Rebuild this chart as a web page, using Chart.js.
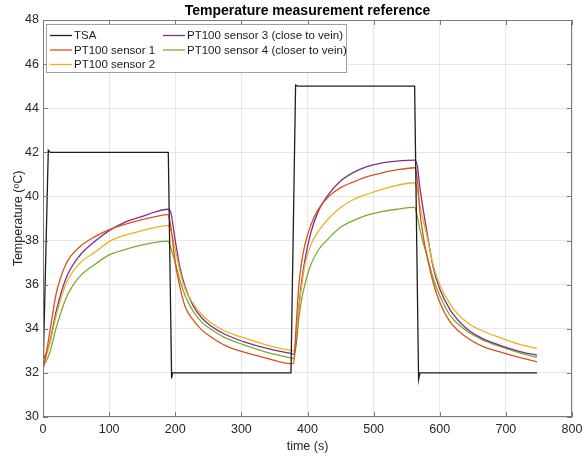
<!DOCTYPE html>
<html>
<head>
<meta charset="utf-8">
<script src="https://cdn.jsdelivr.net/npm/chart.js@4.4.1/dist/chart.umd.min.js"></script>
<style>
body{margin:0;background:#fff}
canvas{display:block}
</style>
</head>
<body>
<canvas id="tempRef" width="585" height="461"></canvas>
<script>
/* ---- data ---- */

const tsaTime = [0, 1, 8, 11, 189.5, 194.5, 196, 375, 382, 385, 562, 568, 570, 747]
const tsaTemp = [32, 32, 42.1, 42, 42, 31.75, 32, 32, 45.05, 45, 45, 31.7, 32, 32]

const sensorTime = [0,5,10,20,35,55,80,100,125,150,170,189,
193,200,207,215,227,240,253,275,303,340,375,
379,383,387,391,396,405,416,432,450,469,490,510,535,562,
566,570,575,580,590,600,616,641,665,691,720,747]

const sensor1 = [32.1,32.9,33.8,35.6,36.95,37.7,38.2,38.5,38.75,38.95,39.08,39.18,
38.7,37.0,35.9,35.0,34.4,33.95,33.65,33.25,32.95,32.65,32.42,
32.45,34.2,36.0,37.0,37.8,38.7,39.4,40.0,40.4,40.65,40.9,41.05,41.2,41.3,
40.8,39.3,38.2,37.4,36.1,35.2,34.3,33.6,33.2,32.95,32.7,32.5]

const sensor2 = [32.4,32.8,33.3,34.6,36.05,36.95,37.5,37.95,38.25,38.45,38.6,38.68,
38.5,37.6,36.6,35.8,35.15,34.65,34.3,33.9,33.6,33.25,33.02,
33.0,33.7,35.0,35.9,36.9,37.8,38.4,39.0,39.5,39.85,40.1,40.3,40.5,40.62,
40.3,39.6,38.9,38.3,36.9,36.0,35.1,34.3,33.9,33.6,33.3,33.1]

const sensor3 = [32.6,32.9,33.35,34.8,36.3,37.3,38.0,38.45,38.85,39.1,39.3,39.42,
39.3,38.0,36.8,35.9,35.05,34.5,34.15,33.75,33.42,33.1,32.88,
32.85,33.5,35.0,36.1,37.1,38.35,39.3,40.1,40.7,41.08,41.35,41.5,41.6,41.65,
41.4,40.4,39.4,38.5,36.8,35.8,34.85,34.0,33.55,33.25,32.98,32.8]

const sensor4 = [32.3,32.55,32.9,34.05,35.4,36.35,36.95,37.35,37.6,37.8,37.92,37.97,
37.7,37.0,36.2,35.5,34.8,34.3,34.0,33.6,33.28,32.92,32.68,
32.65,33.3,34.5,35.3,36.0,36.9,37.55,38.1,38.6,38.9,39.15,39.3,39.42,39.5,
39.1,38.5,37.9,37.4,36.3,35.5,34.6,33.9,33.5,33.2,32.92,32.7]

const seriesLabels = ["TSA","PT100 sensor 1","PT100 sensor 2","PT100 sensor 3 (close to vein)","PT100 sensor 4 (closer to vein)"]
const seriesColors = ["#1f1f1f","#d95319","#edb120","#7e2f8e","#77ac30"]

const FONT = "'Liberation Sans', Arial, Helvetica, sans-serif"

/* ---- helpers ---- */

function pts(xs, ys){
return xs.map((x,i)=>({x:x, y:ys[i]}))
}

/* box, inward ticks and legend, MATLAB style */

const matlabBox = {
id:"matlabBox",
afterDatasetsDraw(chart){
const ctx = chart.ctx
const a = chart.chartArea
const xs = chart.scales.x
const ys = chart.scales.y

ctx.save()
ctx.strokeStyle = "#7a7a7a"
ctx.lineWidth = 1
ctx.strokeRect(a.left+0.5, a.top+0.5, a.right-a.left-1, a.bottom-a.top-1)

ctx.beginPath()
xs.ticks.forEach(t=>{
const px = Math.round(xs.getPixelForValue(t.value))+0.5
ctx.moveTo(px, a.bottom); ctx.lineTo(px, a.bottom-5)
ctx.moveTo(px, a.top); ctx.lineTo(px, a.top+5)
})
ys.ticks.forEach(t=>{
const py = Math.round(ys.getPixelForValue(t.value))+0.5
ctx.moveTo(a.left, py); ctx.lineTo(a.left+5, py)
ctx.moveTo(a.right, py); ctx.lineTo(a.right-5, py)
})
ctx.stroke()

/* legend */
const lx = a.left+3, ly = a.top+4, lw = 300, lh = 48
ctx.fillStyle = "#ffffff"
ctx.fillRect(lx, ly, lw, lh)
ctx.strokeStyle = "#a0a0a0"
ctx.strokeRect(lx+0.5, ly+0.5, lw, lh)

const slots = [[0,0],[0,1],[0,2],[1,0],[1,1]]
ctx.font = "11.5px " + FONT
ctx.textBaseline = "middle"
ctx.textAlign = "left"
chart.data.datasets.forEach((ds,i)=>{
const col = slots[i][0], row = slots[i][1]
const x0 = lx + 4 + col*113
const y0 = ly + 11.5 + row*14.5
ctx.strokeStyle = ds.borderColor
ctx.lineWidth = 1.3
ctx.beginPath()
ctx.moveTo(x0, y0); ctx.lineTo(x0+22, y0)
ctx.stroke()
ctx.fillStyle = "#1a1a1a"
ctx.fillText(ds.label, x0+24, y0+0.5)
})
ctx.restore()
}
}

/* ---- chart ---- */

const datasets = [
{label:seriesLabels[0], data:pts(tsaTime,tsaTemp), borderColor:seriesColors[0], tension:0},
{label:seriesLabels[1], data:pts(sensorTime,sensor1), borderColor:seriesColors[1], cubicInterpolationMode:"monotone"},
{label:seriesLabels[2], data:pts(sensorTime,sensor2), borderColor:seriesColors[2], cubicInterpolationMode:"monotone"},
{label:seriesLabels[3], data:pts(sensorTime,sensor3), borderColor:seriesColors[3], cubicInterpolationMode:"monotone"},
{label:seriesLabels[4], data:pts(sensorTime,sensor4), borderColor:seriesColors[4], cubicInterpolationMode:"monotone"}
].map(d=>Object.assign({borderWidth:1.3, pointRadius:0, fill:false}, d))

new Chart(document.getElementById("tempRef"),{
type:"line",
data:{datasets:datasets},
options:{
responsive:false,
animation:false,
devicePixelRatio:1,
layout:{padding:{left:0,right:13,top:0,bottom:0}},
plugins:{
legend:{display:false},
tooltip:{enabled:false},
title:{
display:true,
fullSize:false,
text:"Temperature measurement reference",
color:"#000",
font:{family:FONT,size:14,weight:"bold"},
padding:{top:2.6,bottom:0.6}
}
},
scales:{
x:{
type:"linear",
min:0,max:800,
ticks:{stepSize:100,color:"#262626",font:{family:FONT,size:12.5},padding:5,maxRotation:0},
grid:{color:"rgba(0,0,0,0.09)",drawTicks:false},
border:{display:false},
title:{display:true,text:"time (s)",color:"#262626",font:{family:FONT,size:12.5},padding:{top:0,bottom:7}},
afterFit(s){ s.height = 44; s.paddingRight = 0; s.paddingLeft = 0 }
},
y:{
type:"linear",
min:30,max:48,
ticks:{stepSize:2,color:"#262626",font:{family:FONT,size:12.5},padding:4},
grid:{color:"rgba(0,0,0,0.09)",drawTicks:false},
border:{display:false},
title:{display:true,text:"Temperature (ᵒC)",color:"#262626",font:{family:FONT,size:12.5},padding:{top:11,bottom:0}},
afterFit(s){ s.width = 43 }
}
}
},
plugins:[matlabBox]
})
</script>
</body>
</html>
